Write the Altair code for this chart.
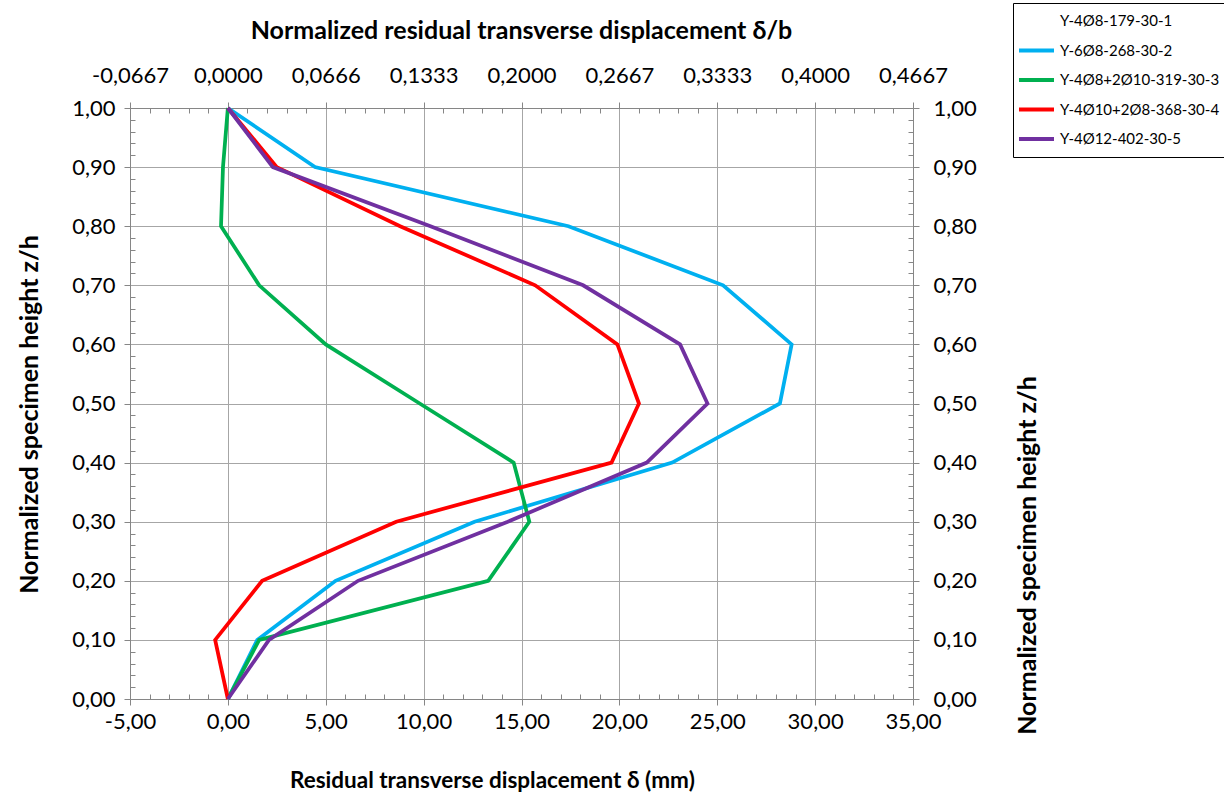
import altair as alt
import pandas as pd

series_names = [
    "Y-4Ø8-179-30-1",
    "Y-6Ø8-268-30-2",
    "Y-4Ø8+2Ø10-319-30-3",
    "Y-4Ø10+2Ø8-368-30-4",
    "Y-4Ø12-402-30-5",
]
series_colors = ["transparent", "#00B0F0", "#00B050", "#FF0000", "#7030A0"]

z_levels = [0.0, 0.1, 0.2, 0.3, 0.4, 0.5, 0.6, 0.7, 0.8, 0.9, 1.0]
delta_s2 = [0.0, 1.5, 5.5, 12.6, 22.7, 28.2, 28.8, 25.3, 17.4, 4.45, 0.0]
delta_s3 = [0.0, 1.6, 13.3, 15.4, 14.6, 9.8, 5.0, 1.6, -0.35, -0.25, 0.0]
delta_s4 = [0.0, -0.65, 1.75, 8.6, 19.6, 21.0, 19.9, 15.7, 8.8, 2.5, 0.0]
delta_s5 = [0.0, 2.1, 6.65, 14.3, 21.4, 24.5, 23.1, 18.15, 10.35, 2.3, 0.0]

x_major = [-5, 0, 5, 10, 15, 20, 25, 30, 35]
top_labels = ["-0,0667", "0,0000", "0,0666", "0,1333", "0,2000",
              "0,2667", "0,3333", "0,4000", "0,4667"]
y_major = [0.0, 0.1, 0.2, 0.3, 0.4, 0.5, 0.6, 0.7, 0.8, 0.9, 1.0]
x_minor = [v for v in range(-5, 36) if v % 5 != 0]
y_minor = [round(i * 0.02, 2) for i in range(51) if i % 5 != 0]

rows = []
for name, vals in zip(series_names[1:], [delta_s2, delta_s3, delta_s4, delta_s5]):
    for i, (d, z) in enumerate(zip(vals, z_levels)):
        rows.append({"series": name, "delta": d, "z": z, "idx": i})
df = pd.DataFrame(rows)

FONT = "Lato"
AX = "#868686"
GRID = "#a6a6a6"
xs = alt.Scale(domain=[-5, 35], nice=False, zero=False)
ys = alt.Scale(domain=[0, 1], nice=False, zero=False)

num_expr = "replace(replace(format(datum.value, '.2f'), '.', ','), '\u2212', '-')"
top_expr = "[" + ",".join("'" + t + "'" for t in top_labels) + "][round((datum.value + 5) / 5)]"

common = dict(labelFont=FONT, labelFontSize=22, labelColor="black",
              domainColor=AX, tickColor=AX, tickSize=6,
              labelOverlap=False, labelFlush=False,
              titleFont=FONT, titleFontWeight="bold",
              titleColor="black")

main = alt.Chart(df).mark_line(strokeWidth=3.75).encode(
    x=alt.X("delta:Q", scale=xs, axis=alt.Axis(
        orient="bottom", values=x_major, labelExpr=num_expr,
        grid=True, gridColor=GRID, gridWidth=1, labelPadding=6,
        title="Residual transverse displacement  δ (mm)", titleFontSize=22.5,
        titleX=362, titleY=81, titleAlign="center", titleBaseline="middle",
        **common)),
    y=alt.Y("z:Q", scale=ys, axis=alt.Axis(
        orient="left", values=y_major, labelExpr=num_expr,
        grid=True, gridColor=GRID, gridWidth=1, labelPadding=9,
        title="Normalized specimen height z/h", titleFontSize=25,
        titleX=-101, titleY=306, titleAlign="center", titleBaseline="middle",
        titleAngle=270, **common)),
    color=alt.Color("series:N", title=None,
                    scale=alt.Scale(domain=series_names, range=series_colors),
                    legend=alt.Legend(orient="none", legendX=883, legendY=-105,
                                      symbolType="stroke", symbolSize=1225,
                                      symbolStrokeWidth=4, strokeColor="black",
                                      fillColor="white", padding=4,
                                      labelFont=FONT, labelFontSize=15,
                                      labelColor="black", labelLimit=400,
                                      labelOffset=4, clipHeight=28,
                                      rowPadding=1.5)),
    order=alt.Order("idx:Q"),
)

top_right = alt.Chart(df).mark_point(opacity=0).encode(
    x=alt.X("delta:Q", scale=xs, axis=alt.Axis(
        orient="top", values=x_major, labelExpr=top_expr, grid=False,
        labelPadding=15,
        title="Normalized residual transverse displacement  δ/b", titleFontSize=25,
        titleX=391, titleY=-78, titleAlign="center", titleBaseline="middle",
        **common)),
    y=alt.Y("z:Q", scale=ys, axis=alt.Axis(
        orient="right", values=y_major, labelExpr=num_expr, grid=False,
        labelPadding=14,
        title="Normalized specimen height z/h", titleFontSize=25,
        titleX=114, titleY=447, titleAlign="center", titleBaseline="middle",
        titleAngle=270, **common)),
)

minor_common = dict(labels=False, domain=False, grid=False, tickColor=AX,
                    tickSize=5, offset=-5, title="")

minor_bl = alt.Chart(df).mark_point(opacity=0).encode(
    x=alt.X("delta:Q", scale=xs, axis=alt.Axis(orient="bottom", values=x_minor, **minor_common)),
    y=alt.Y("z:Q", scale=ys, axis=alt.Axis(orient="left", values=y_minor, **minor_common)),
)
minor_tr = alt.Chart(df).mark_point(opacity=0).encode(
    x=alt.X("delta:Q", scale=xs, axis=alt.Axis(orient="top", values=x_minor, **minor_common)),
    y=alt.Y("z:Q", scale=ys, axis=alt.Axis(orient="right", values=y_minor, **minor_common)),
)

chart = alt.layer(main, top_right, minor_bl, minor_tr).resolve_scale(
    x="independent", y="independent"
).properties(
    width=783, height=591,
    autosize=alt.AutoSizeParams(type="none"),
    padding={"left": 130, "top": 108, "right": 311, "bottom": 98},
    background="white",
).configure_view(strokeWidth=0)

chart.save("out.html", embed_options={"renderer": "svg", "actions": False})
